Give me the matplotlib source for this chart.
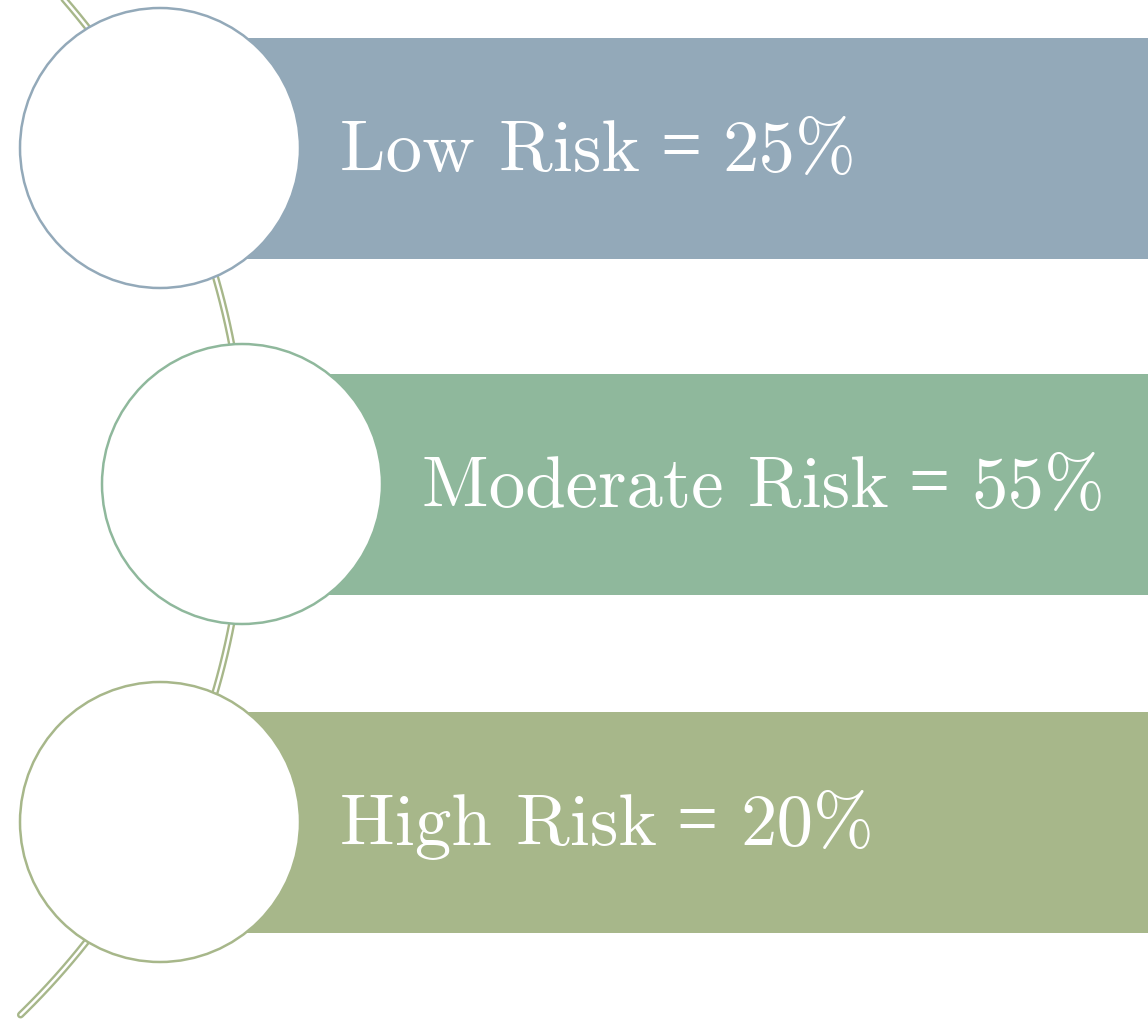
import numpy as np
import matplotlib.pyplot as plt
from matplotlib.patches import Circle, Rectangle

labels = ['Low Risk', 'Moderate Risk', 'High Risk']
shares = [25, 55, 20]
colors = ['#93a9b9', '#8fb89c', '#a7b78a']

# layout in pixels
cx = [160, 242, 160]
cy = [148, 484, 822]
rad = 140
bar_h = 221
fs = 52.5

fig = plt.figure(figsize=(11.48, 10.19), dpi=100)
ax = fig.add_axes([0, 0, 1, 1])
ax.set_xlim(0, 1148)
ax.set_ylim(1019, 0)
ax.axis('off')
rend = fig.canvas.get_renderer()

# the curved double line behind the circles
t = np.linspace(-0.75, 0.80, 400)
R, ox, oy = 740, -495, 484
xs = ox + R * np.cos(t)
ys = oy + R * np.sin(t)
ax.plot(xs, ys, color='#a7b78a', lw=5.2, zorder=2, solid_capstyle='round')
ax.plot(xs, ys, color='white', lw=1.8, zorder=2.1, solid_capstyle='round')


def put(x, y, s, **kw):
    tx = ax.text(x, y, s, color='white', fontsize=fs, va='baseline',
                 ha='left', zorder=4, **kw)
    bb = tx.get_window_extent(rend)
    return x + bb.width


for i, (lab, val, c) in enumerate(zip(labels, shares, colors)):
    ax.add_patch(Rectangle((cx[i], cy[i] - bar_h / 2), 1148 - cx[i], bar_h,
                           facecolor=c, edgecolor='none', zorder=1))
    ax.add_patch(Circle((cx[i], cy[i]), rad, facecolor='white',
                        edgecolor=c, lw=1.8, zorder=3))
    base = cy[i] + 23
    x = put(cx[i] + 180, base, lab, family='cmr10')
    x = put(x + 20, base - 2, '=', family='Liberation Serif')
    put(x + 22, base, f'{val}%', family='cmr10')

fig.savefig('out.png', dpi=100)
